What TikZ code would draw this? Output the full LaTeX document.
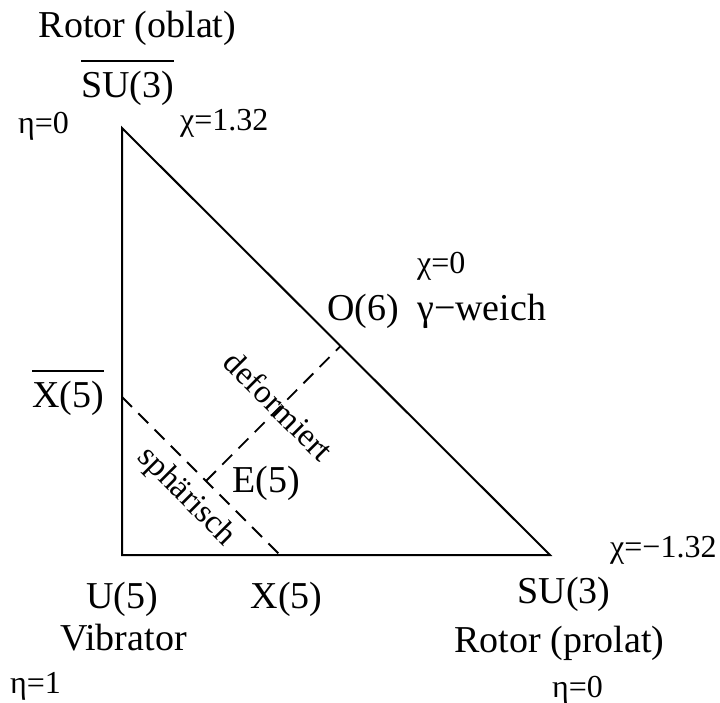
\documentclass[tikz,border=0pt]{standalone}
\usepackage{fontspec}
\setmainfont{Liberation Serif}
\usetikzlibrary{calc}
\newcommand\ovlbar[1]{\vbox{\hrule height 2pt\kern 9pt\hbox{#1}}}
\begin{document}
\begin{tikzpicture}[x=1pt,y=-1pt,
  big/.style={inner sep=0pt, font=\fontsize{38}{44}\selectfont},
  small/.style={inner sep=0pt, font=\fontsize{32}{38}\selectfont},
  slanted/.style={inner sep=0pt, rotate=-45, font=\fontsize{33}{38}\selectfont},
  edge/.style={line width=2pt},
  dashline/.style={line width=1.8pt, dash pattern=on 14pt off 9pt}]
\useasboundingbox (0,0) rectangle (720,702);
% triangle corners
\coordinate (A) at (122,128);
\coordinate (B) at (122,555);
\coordinate (C) at (550,555);
\draw[edge, line join=miter] (A) -- (B) -- (C) -- cycle;
% dashed boundaries
\coordinate (P1) at (122,397);
\coordinate (P2) at (280,555);
\coordinate (Q1) at (206,481);
\coordinate (Q2) at ($(A)!(Q1)!(C)$);
\draw[dashline] (P1) -- (P2);
\draw[dashline] (Q1) -- (Q2);
% labels
\node[big, anchor=base] (rotob) at (137.5,37) {Rotor (oblat)};
\node[big, anchor=base] (subar) at (127.5,97) {\ovlbar{SU(3)}};
\node[small, anchor=base west] (eta0a) at (18,133) {η=0};
\node[small, anchor=base west] (chi1) at (180,130) {χ=1.32};
\node[small, anchor=base west] (chi0) at (417,273) {χ=0};
\node[big, anchor=base west] (o6) at (327,320) {O(6)};
\node[big, anchor=base west] (gw) at (417,320) {γ−weich};
\node[big, anchor=base] (x5bar) at (68,407) {\ovlbar{X(5)}};
\node[big, anchor=base west] (e5) at (232,492) {E(5)};
\node[slanted] (def) at (279,406) {deformiert};
\node[slanted] (sph) at (186,497) {sphärisch};
\node[big, anchor=base] (u5) at (122,608) {U(5)};
\node[big, anchor=base] (x5) at (286.5,608) {X(5)};
\node[big, anchor=base] (vib) at (123.5,650) {Vibrator};
\node[small, anchor=base west] (eta1) at (10,693) {η=1};
\node[big, anchor=base] (su3) at (564,603) {SU(3)};
\node[big, anchor=base] (rotpr) at (559.5,652) {Rotor (prolat)};
\node[small, anchor=base west] (eta0b) at (552,697) {η=0};
\node[small, anchor=base west] (chim) at (610,557) {χ=−1.32};
\end{tikzpicture}
\end{document}
